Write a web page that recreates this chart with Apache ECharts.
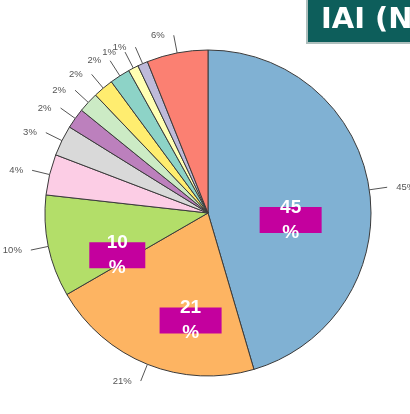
<!DOCTYPE html>
<html><head><meta charset="utf-8">
<script src="https://cdn.jsdelivr.net/npm/echarts@6/dist/echarts.min.js"></script>
<style>html,body{margin:0;padding:0;background:#fff}#c{width:410px;height:414px}</style>
</head><body><div id="c"></div>
<script>
// Data
const categories = ['A','B','C','D','E','F','G','H','I','J','K','L'];
const shares = [45, 21, 10, 4, 3, 2, 2, 2, 2, 1, 1, 6];
const sliceColors = ['#80b1d3','#fdb462','#b3de69','#fccde5','#d9d9d9','#bc80bd','#ccebc5','#ffed6f','#8dd3c7','#ffffb3','#bebada','#fb8072'];
const highlightMin = 10; // slices with a magenta callout
const titleText = 'IAI (N';

// nudges for callout boxes (pixels), keyed by data index
const calloutNudge = {0:[-1,19], 1:[14,29], 2:[-8,25]};

const chart = echarts.init(document.getElementById('c'), null, {renderer:'canvas'});
const data = categories.map((c,i)=>({name:c, value:shares[i]}));
const center = [208, 213];
const radius = 163;

function nudge(p){ const n = calloutNudge[p.dataIndex]; return n ? {dx:n[0], dy:n[1]} : {}; }

const overlayBase = {
  type:'pie', center, radius:[0, radius], startAngle:90, clockwise:true,
  silent:true, animation:false, avoidLabelOverlap:false,
  itemStyle:{color:'transparent', borderWidth:0},
  emphasis:{disabled:true},
  labelLine:{show:false},
  data,
  labelLayout: nudge
};

chart.setOption({
  animation:false,
  title:{
    text: titleText, left:307, top:-1,
    backgroundColor:'#0d5e5b', borderColor:'#aebfbd', borderWidth:2,
    padding:[7, 20, 8, 14],
    textStyle:{color:'#fff', fontSize:29, fontWeight:'bold', fontFamily:'DejaVu Sans'}
  },
  series:[
    {
      type:'pie', center, radius, startAngle:90, clockwise:true,
      avoidLabelOverlap:false, animation:false,
      data: data.map((d,i)=>({...d, itemStyle:{color:sliceColors[i]}})),
      itemStyle:{borderColor:'#3a3a3a', borderWidth:1},
      label:{show:true, position:'outside', formatter:'{c}%', color:'#555', fontSize:9.5,
             fontFamily:'Liberation Sans', distanceToLabelLine:9},
      labelLine:{show:true, length:18, length2:0, lineStyle:{color:'#555', width:1}},
      labelLayout:{hideOverlap:false}
    },
    Object.assign({}, overlayBase, {
      z:3,
      label:{show:true, position:'inside',
        formatter:p=> p.value>=highlightMin ? (p.value===highlightMin ? '{sbox|}' : '{box|}') : '',
        rich:{box:{width:62, height:26, backgroundColor:'#c4009e'},
              sbox:{width:56, height:26, backgroundColor:'#c4009e'}}}
    }),
    Object.assign({}, overlayBase, {
      z:4,
      label:{show:true, position:'inside',
        formatter:p=> p.value>=highlightMin ? p.value+'\n%' : '',
        color:'#fff', fontSize:19, fontWeight:'bold', fontFamily:'Liberation Sans', lineHeight:25}
    })
  ]
});
</script></body></html>
